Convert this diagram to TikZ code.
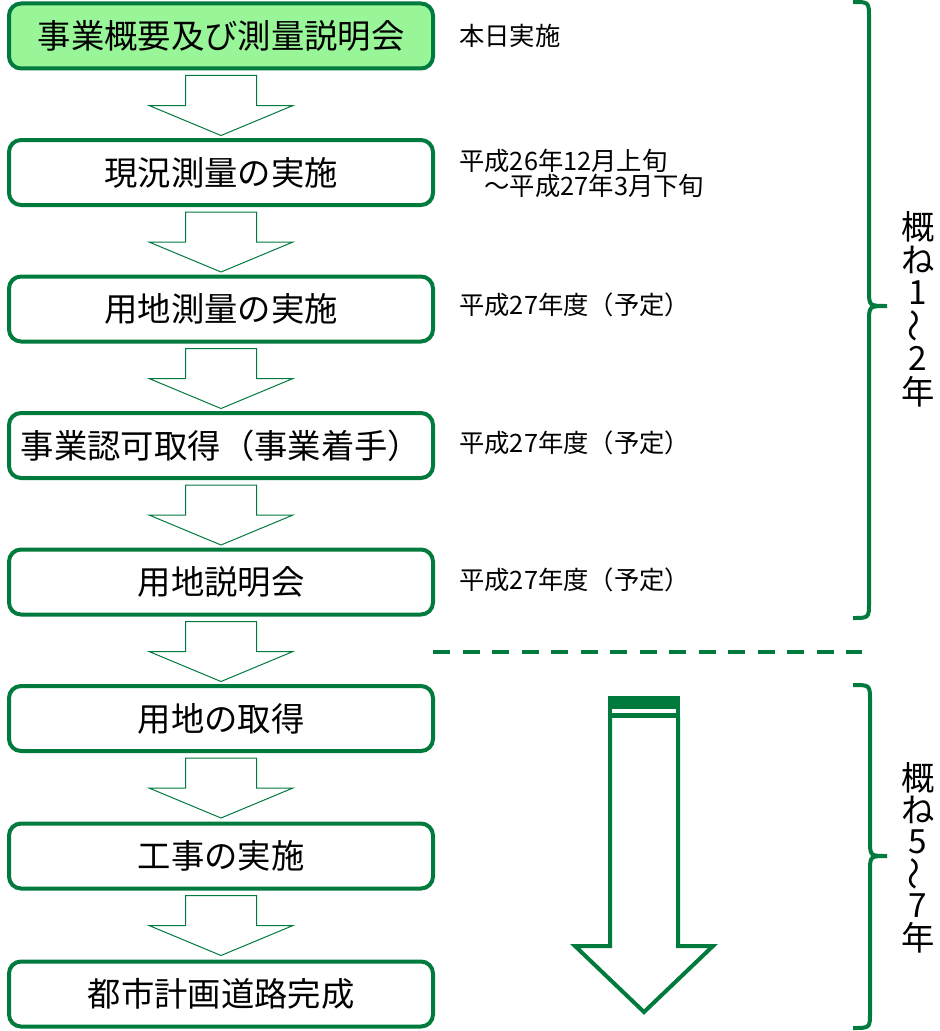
\documentclass[tikz,border=0pt]{standalone}
\usepackage{fontspec}
\setmainfont{Noto Sans CJK JP}
\usetikzlibrary{calc}
\definecolor{flowgreen}{RGB}{0,122,61}
\definecolor{startgreen}{RGB}{152,245,152}

\begin{document}
\begin{tikzpicture}[x=0.75pt, y=-0.75pt,
    stage/.style ={rectangle, rounded corners=9pt, draw=flowgreen, line width=3pt, fill=white,
      minimum width=318pt, minimum height=48.75pt, inner sep=0pt, font=\fontsize{25pt}{25pt}\selectfont},
    period/.style ={anchor=west, inner sep=0pt, align=left, font=\fontsize{19pt}{19pt}\selectfont},
    span/.style ={inner sep=0pt, font=\fontsize{25pt}{25pt}\selectfont},
    flow/.style ={draw=flowgreen, line width=0.75pt, fill=white, line join=miter},
    bracket/.style ={draw=flowgreen, line width=3pt}]
   \useasboundingbox (0,0) rectangle (939,1031);
   % steps
   \node[stage, fill=startgreen] (A) at (221,36)  {事業概要及び測量説明会};
   \node[stage] (B) at (221,172.5) {現況測量の実施};
   \node[stage] (C) at (221,309)   {用地測量の実施};
   \node[stage] (D) at (221,445.5) {事業認可取得（事業着手）};
   \node[stage] (E) at (221,582)   {用地説明会};
   \node[stage] (F) at (221,718.5) {用地の取得};
   \node[stage] (G) at (221,856)   {工事の実施};
   \node[stage] (H) at (221,994)   {都市計画道路完成};
   % arrows between steps
   \foreach \u in {A,B,C,D,E,F,G}
     \draw[flow] ($(\u.south)+(-35.5,5)$) -- ($(\u.south)+(-35.5,35)$) -- ($(\u.south)+(-72,35)$)
       -- ($(\u.south)+(0,65)$) -- ($(\u.south)+(72,35)$) -- ($(\u.south)+(35.5,35)$)
       -- ($(\u.south)+(35.5,5)$) -- cycle;
   % dates
   \node[period] (tA) at (459,36)    {本日実施};
   \node[period] (tB) at (459,173.5) {平成26年12月上旬\\　～平成27年3月下旬};
   \node[period] (tC) at (459,305)   {平成27年度（予定）};
   \node[period] (tD) at (459,443)   {平成27年度（予定）};
   \node[period] (tE) at (459,580)   {平成27年度（予定）};
   % split
   \draw[flowgreen, line width=3pt, dash pattern=on 12.75pt off 9.4pt] (433,652) -- (862,652);
   % long arrow
   \fill[flowgreen] (608,696) rectangle (680,718);
   \fill[white] (612,709) rectangle (676,713);
   \draw[flowgreen, line width=3pt, line join=miter] (610,717) -- (610,946) -- (575,946) -- (644,1012)
     -- (713,946) -- (678,946) -- (678,717);
   % braces
   \draw[bracket] (853,2) .. controls (869,2) .. (869,18) -- (869,290) .. controls (869,306) .. (887,306)
     .. controls (869,306) .. (869,322) -- (869,602) .. controls (869,618) .. (853,618);
   \draw[bracket] (853,685) .. controls (870,685) .. (870,701) -- (870,840) .. controls (870,856) .. (887,856)
     .. controls (870,856) .. (870,872) -- (870,1012) .. controls (870,1028) .. (853,1028);
   \foreach \ch [count=\i] in {概,ね,1,\rotatebox[origin=c]{90}{～},2,年}
     \node[span] (P\i) at (918,{226.5+33*(\i-1)}) {\ch};
   \foreach \ch [count=\i] in {概,ね,5,\rotatebox[origin=c]{90}{～},7,年}
     \node[span] (Q\i) at (918,{778+32*(\i-1)}) {\ch};
 \end{tikzpicture}
\end{document}
